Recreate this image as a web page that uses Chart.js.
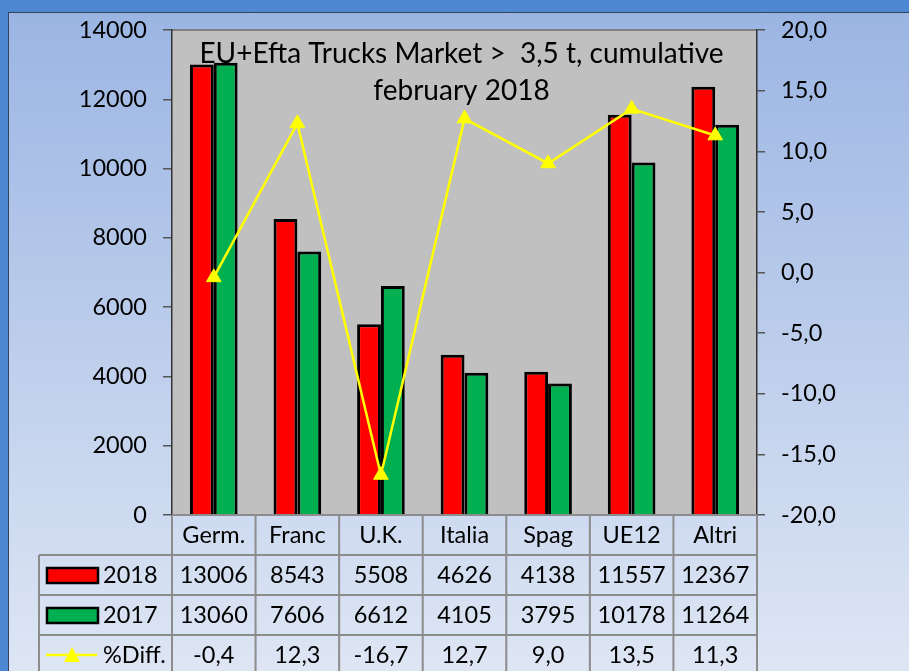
<!DOCTYPE html>
<html>
<head>
<meta charset="utf-8">
<style>
  html, body { margin: 0; padding: 0; }
  body { width: 909px; height: 671px; background: #4f88d2; position: relative; overflow: hidden; }
  #frame {
    position: absolute; left: 8px; top: 12px; width: 901px; height: 659px;
    background: linear-gradient(#9bb5e3, #dee6f4);
    border-top: 1px solid #34445c; border-left: 1px solid #34445c;
  }
  #chart { position: absolute; left: 0; top: 0; }
</style>
<script src="https://cdn.jsdelivr.net/npm/chart.js@4"></script>
</head>
<body>
<div id="frame"></div>
<canvas id="chart" width="909" height="671"></canvas>
<script>
  // ===== data =====
  const categories = ["Germ.", "Franc", "U.K.", "Italia", "Spag", "UE12", "Altri"];
  const seriesNames = ["2018", "2017", "%Diff."];
  const sales2018 = [13006, 8543, 5508, 4626, 4138, 11557, 12367];
  const sales2017 = [13060, 7606, 6612, 4105, 3795, 10178, 11264];
  const pctDiff = [-0.4, 12.3, -16.7, 12.7, 9.0, 13.5, 11.3];
  const leftRange = [0, 14000, 2000];   // min, max, step
  const rightRange = [-20, 20, 5];
  const titleLines = ["EU+Efta Trucks Market >  3,5 t, cumulative", "february 2018"];

  const RED = "#ff0000", GREEN = "#00b050", YELLOW = "#ffff00";
  const FONT = "Lato, 'Open Sans', sans-serif";
  const TXT = 23.5;
  const comma1 = (v) => Number(v).toFixed(1).replace(".", ",");

  // plot area bg + top line
  const plotBg = {
    id: "plotBg",
    beforeDraw(chart) {
      const { ctx, chartArea: a } = chart;
      ctx.save();
      ctx.fillStyle = "#c0c0c0";
      ctx.fillRect(a.left, a.top, a.right - a.left, a.bottom - a.top);
      ctx.strokeStyle = "#808080";
      ctx.lineWidth = 2;
      ctx.beginPath();
      ctx.moveTo(a.left, a.top);
      ctx.lineTo(a.right, a.top);
      ctx.stroke();
      ctx.restore();
    },
  };

  // title inside the plot
  const plotTitle = {
    id: "plotTitle",
    afterDraw(chart) {
      const { ctx, chartArea: a } = chart;
      const cx = (a.left + a.right) / 2 - 3;
      ctx.save();
      ctx.font = "28px " + FONT;
      ctx.fillStyle = "#000";
      ctx.textAlign = "center";
      ctx.textBaseline = "alphabetic";
      titleLines.forEach((t, i) => ctx.fillText(t, cx, a.top + 33 + i * 37));
      ctx.restore();
    },
  };

  // data table under the plot
  const dataTable = {
    id: "dataTable",
    afterDraw(chart) {
      const { ctx, chartArea: a, scales } = chart;
      const x = scales.x;
      const n = categories.length;
      const cw = (a.right - a.left) / n;
      const rowH = 40;
      const top = a.bottom;
      const legL = 39;
      const rows = [sales2018.map(String), sales2017.map(String), pctDiff.map(comma1)];

      ctx.save();
      ctx.strokeStyle = "#8c8c8c";
      ctx.lineWidth = 2;
      ctx.beginPath();
      ctx.moveTo(a.left, top);
      ctx.lineTo(a.right, top);
      for (let r = 1; r <= 3; r++) {
        ctx.moveTo(legL, top + r * rowH);
        ctx.lineTo(a.right, top + r * rowH);
      }
      for (let i = 0; i <= n; i++) {
        const xv = a.left + i * cw;
        ctx.moveTo(xv, top);
        ctx.lineTo(xv, top + 4 * rowH);
      }
      ctx.moveTo(legL, top + rowH);
      ctx.lineTo(legL, top + 4 * rowH);
      ctx.stroke();

      ctx.font = TXT + "px " + FONT;
      ctx.fillStyle = "#000";
      ctx.textAlign = "center";
      ctx.textBaseline = "middle";
      categories.forEach((c, i) => ctx.fillText(c, x.getPixelForValue(i), top + rowH / 2));
      rows.forEach((vals, r) => {
        const cy = top + (r + 1.5) * rowH;
        vals.forEach((v, i) => ctx.fillText(v, x.getPixelForValue(i), cy));
      });

      // legend keys
      ctx.textAlign = "left";
      [RED, GREEN].forEach((col, r) => {
        const cy = top + (r + 1.5) * rowH;
        ctx.fillStyle = col;
        ctx.fillRect(47, cy - 7, 51, 15);
        ctx.strokeStyle = "#000";
        ctx.lineWidth = 2.5;
        ctx.strokeRect(47, cy - 7, 51, 15);
        ctx.fillStyle = "#000";
        ctx.fillText(seriesNames[r], 103, cy);
      });
      const cy = top + 3.5 * rowH;
      ctx.strokeStyle = YELLOW;
      ctx.lineWidth = 2.5;
      ctx.beginPath();
      ctx.moveTo(46, cy);
      ctx.lineTo(97, cy);
      ctx.stroke();
      ctx.fillStyle = YELLOW;
      ctx.beginPath();
      ctx.moveTo(72, cy - 8);
      ctx.lineTo(80, cy + 7);
      ctx.lineTo(64, cy + 7);
      ctx.closePath();
      ctx.fill();
      ctx.fillStyle = "#000";
      ctx.fillText(seriesNames[2], 103, cy);
      ctx.restore();
    },
  };

  function build() {
    new Chart(document.getElementById("chart"), {
      data: {
        labels: categories,
        datasets: [
          {
            type: "line",
            label: seriesNames[2],
            data: pctDiff,
            yAxisID: "y1",
            order: 0,
            borderColor: YELLOW,
            borderWidth: 2.5,
            tension: 0,
            pointStyle: "triangle",
            pointRadius: 8.5,
            pointBorderWidth: 1,
            pointBackgroundColor: YELLOW,
            pointBorderColor: YELLOW,
          },
          {
            type: "bar",
            label: seriesNames[0],
            data: sales2018,
            yAxisID: "y",
            order: 1,
            backgroundColor: RED,
            borderColor: "#000",
            borderWidth: 3,
            categoryPercentage: 0.57,
            barPercentage: 1,
          },
          {
            type: "bar",
            label: seriesNames[1],
            data: sales2017,
            yAxisID: "y",
            order: 1,
            backgroundColor: GREEN,
            borderColor: "#000",
            borderWidth: 3,
            categoryPercentage: 0.57,
            barPercentage: 1,
          },
        ],
      },
      options: {
        responsive: false,
        animation: false,
        devicePixelRatio: 1,
        layout: { padding: { top: 28, bottom: 156, left: 0, right: 0 } },
        plugins: { legend: { display: false }, tooltip: { enabled: false }, title: { display: false } },
        scales: {
          x: { display: false, offset: true },
          y: {
            position: "left",
            min: leftRange[0],
            max: leftRange[1],
            afterFit: (s) => { s.width = 172; },
            ticks: {
              stepSize: leftRange[2],
              color: "#000",
              padding: 16,
              font: { family: FONT, size: TXT },
              callback: (v) => String(v),
            },
            grid: { drawOnChartArea: false, drawTicks: true, tickLength: 9, color: "#555", lineWidth: 1.5 },
            border: { display: true, color: "#333", width: 1.5 },
          },
          y1: {
            position: "right",
            min: rightRange[0],
            max: rightRange[1],
            afterFit: (s) => { s.width = 152; },
            ticks: {
              stepSize: rightRange[2],
              color: "#000",
              padding: 16,
              font: { family: FONT, size: TXT },
              callback: (v) => comma1(v),
            },
            grid: { drawOnChartArea: false, drawTicks: true, tickLength: 8, color: "#555", lineWidth: 1.5 },
            border: { display: true, color: "#333", width: 1.5 },
          },
        },
      },
      plugins: [plotBg, plotTitle, dataTable],
    });
  }

  if (document.fonts && document.fonts.load) {
    Promise.all([document.fonts.load("23px Lato"), document.fonts.load("28px Lato")]).then(build, build);
  } else build();
</script>
</body>
</html>
